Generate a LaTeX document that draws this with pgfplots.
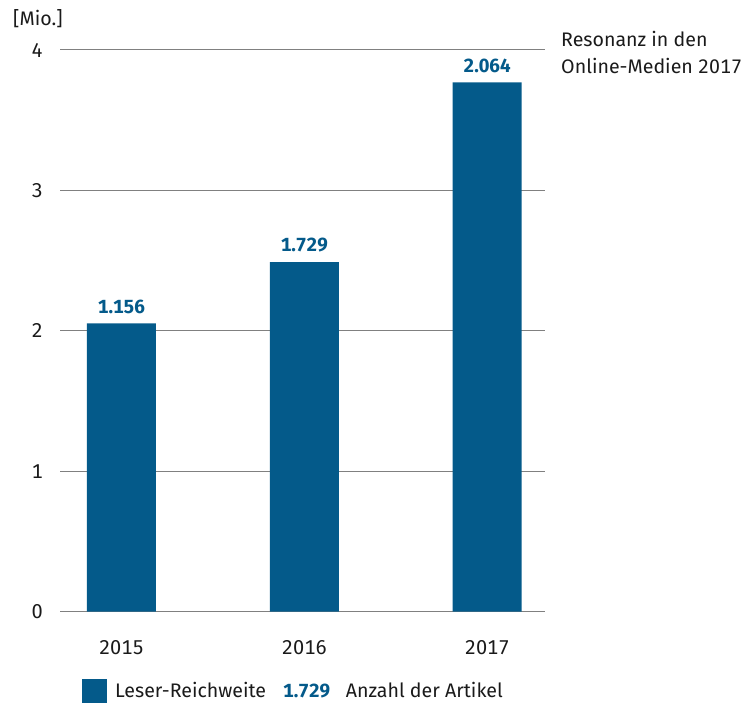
\documentclass[border=0pt]{standalone}
\usepackage{fontspec}
\setmainfont{Fira Sans}[Numbers=Monospaced]
\usepackage{pgfplots}
\pgfplotsset{compat=1.18}
\definecolor{barblue}{RGB}{4,90,138}
\definecolor{txt}{RGB}{26,26,26}
\definecolor{gridgray}{RGB}{128,128,128}
\begin{document}
\begin{tikzpicture}[x=1pt,y=1pt,font=\fontsize{19.6}{24}\selectfont, text=txt]
\path[use as bounding box] (-60,-92.3) rectangle (691,611.7);
\begin{axis}[
 at={(0,0)}, anchor=south west, scale only axis,
 width=485pt, height=561.7pt,
 xmin=-0.336, xmax=2.316, ymin=0, ymax=4,
 ytick={0,1,2,3,4}, xtick={0,1,2}, xticklabels={2015,2016,2017},
 axis line style={draw=none},
 major tick length=0pt,
 ymajorgrids, grid style={gridgray, line width=1pt},
 yticklabel style={inner sep=0pt, anchor=east, xshift=-17pt},
 xticklabel style={inner sep=0pt, anchor=north, yshift=-29pt},
 /pgf/number format/assume math mode=true,
 ticklabel style={font=\fontsize{20}{24}\selectfont, text=txt},
 clip=false,
 ybar, bar width=69pt,
 point meta=explicit symbolic,
 nodes near coords,
 nodes near coords style={font=\fontsize{19}{23}\selectfont\bfseries, text=barblue, anchor=south, inner sep=0pt, yshift=9.7pt},
]
\addplot[fill=barblue, draw=none] table[meta=lab] {
x y lab
0 2.053 1.156
1 2.490 1.729
2 3.770 2.064
};
\end{axis}
\node[anchor=base west, inner sep=0] at (-47,585.7) {[Mio.]};
\node[anchor=base west, inner sep=0] at (501,565) {Resonanz in den};
\node[anchor=base west, inner sep=0] at (501,538.4) {Online-Medien 2017};
\fill[barblue] (22.3,-91.7) rectangle (46.7,-67.3);
\node[anchor=base west, inner sep=0] at (55,-85.3) {Leser-Reichweite};
\node[anchor=base west, inner sep=0, text=barblue, font=\fontsize{19}{23}\selectfont\bfseries] at (223,-85.3) {1.729};
\node[anchor=base west, inner sep=0] at (285.7,-85.3) {Anzahl der Artikel};
\end{tikzpicture}
\end{document}
